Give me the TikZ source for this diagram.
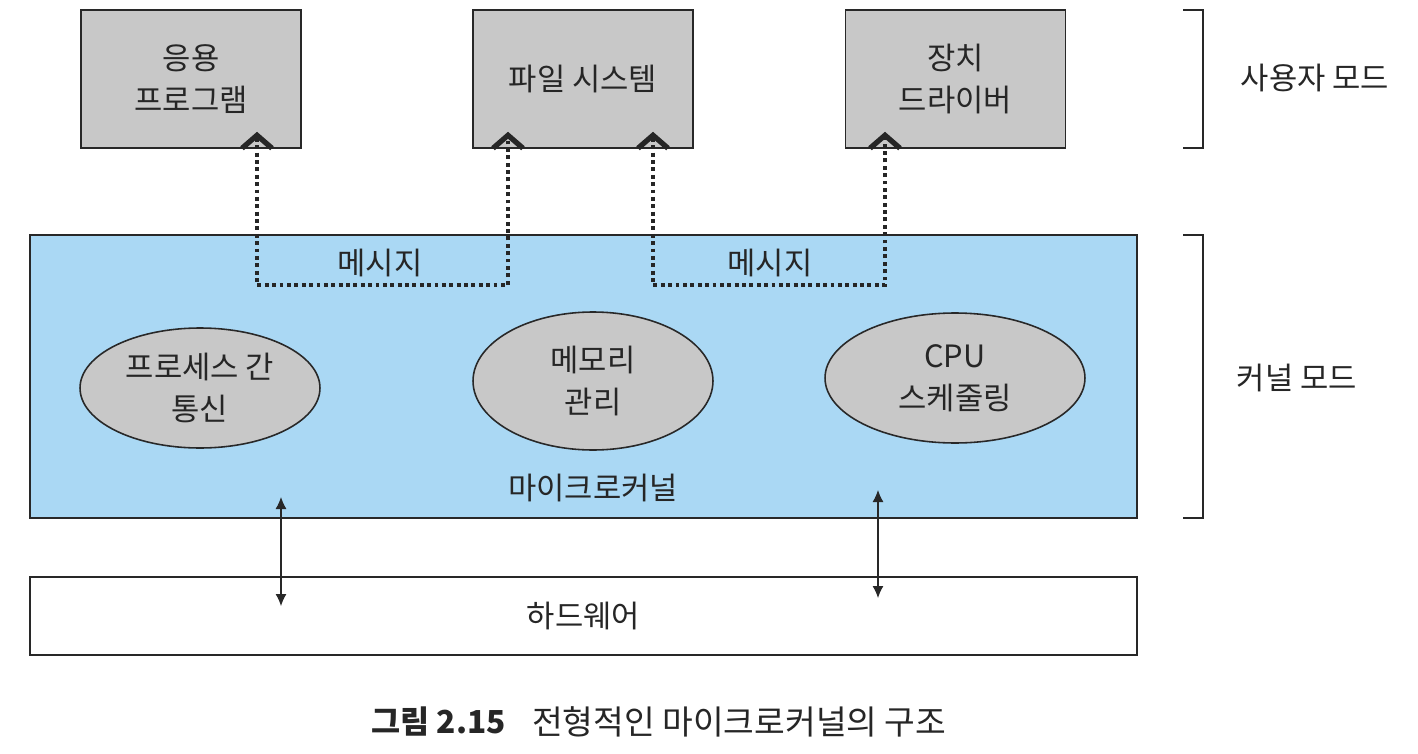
\documentclass[tikz,border=0pt]{standalone}
\usepackage{fontspec}
\setmainfont{Noto Sans CJK KR}
\usetikzlibrary{arrows.meta,shapes.geometric,positioning,calc}
\definecolor{boxgray}{RGB}{200,200,200}
\definecolor{kernelblue}{RGB}{170,216,244}
\definecolor{inkline}{RGB}{40,40,40}

\begin{document}
\begin{tikzpicture}[
    x=0.02cm, y=-0.02cm,
    every node/.style={text=black!85, font=\fontsize{17.5}{24}\selectfont},
    userbox/.style={draw=inkline, line width=0.9pt, fill=boxgray, minimum width=4.4cm, minimum height=2.76cm, align=center},
    wide/.style={draw=inkline, line width=0.9pt, minimum width=22.14cm},
    service/.style={ellipse, draw=inkline, line width=0.9pt, fill=boxgray, align=center, inner sep=0pt},
    barb/.tip={Straight Barb[length=2.6mm,width=6mm,line width=3pt]},
    msg/.style={barb-barb, line width=1.8pt, dash pattern=on 2.2pt off 2pt, draw=black!85, shorten <=-0.34cm, shorten >=-0.34cm},
    hw/.style={{Latex[length=2.4mm,width=2.2mm]}-{Latex[length=2.4mm,width=2.2mm]}, line width=0.7pt, draw=inkline},
    bracket/.style={line width=0.9pt, draw=inkline}
]
\useasboundingbox[fill=white] (0,0) rectangle (1418,754);

% user mode servers
\node[userbox] (app) at (191,79) {응용\\프로그램};
\node[userbox] (fs) at (583,79) {파일 시스템};
\node[userbox] (drv) at (955.5,79) {장치\\드라이버};

% kernel and hardware
\node[wide, fill=kernelblue, minimum height=5.66cm] (kernel) at (583.5,376.5) {};
\node[wide, fill=white, minimum height=1.56cm] (hw) at (583.5,616) {하드웨어};

\node[service, minimum width=4.8cm, minimum height=2.4cm] (ipc) at (200,388) {프로세스 간\\통신};
\node[service, minimum width=4.8cm, minimum height=2.76cm] (mem) at (593,381) {메모리\\관리};
\node[service, minimum width=5.2cm, minimum height=2.6cm] (cpu) at (955,378) {CPU\\스케줄링};
\node (mk) at (593,488) {마이크로커널};

% messages
\coordinate (m1) at (257,285);
\coordinate (m2) at (508,285);
\coordinate (m3) at (653,285);
\coordinate (m4) at (885,285);
\draw[msg] (app.south -| m1) -- (m1) -- (m2) -- (fs.south -| m2);
\draw[msg] (fs.south -| m3) -- (m3) -- (m4) -- (drv.south -| m4);
\node (msg1) at (380,263) {메시지};
\node (msg2) at (770,263) {메시지};

% kernel <-> hardware
\coordinate (h1) at (281,497);
\coordinate (h2) at (281,606);
\coordinate (h3) at (878,490);
\coordinate (h4) at (878,598);
\draw[hw] (h1) -- (h2);
\draw[hw] (h3) -- (h4);

% mode brackets
\draw[bracket] (1183,10) -- (1203,10) -- (1203,148) -- (1183,148);
\draw[bracket] (1183,235) -- (1203,235) -- (1203,518) -- (1183,518);
\node (user) at (1315,78) {사용자 모드};
\node (kmode) at (1297,378) {커널 모드};

% caption
\node[anchor=east, font=\fontsize{18}{22}\selectfont\bfseries] (capnum) at (512,722) {그림 2.15};
\node[anchor=west, font=\fontsize{19}{22}\selectfont] (captext) at (526,722) {전형적인 마이크로커널의 구조};
\end{tikzpicture}
\end{document}
